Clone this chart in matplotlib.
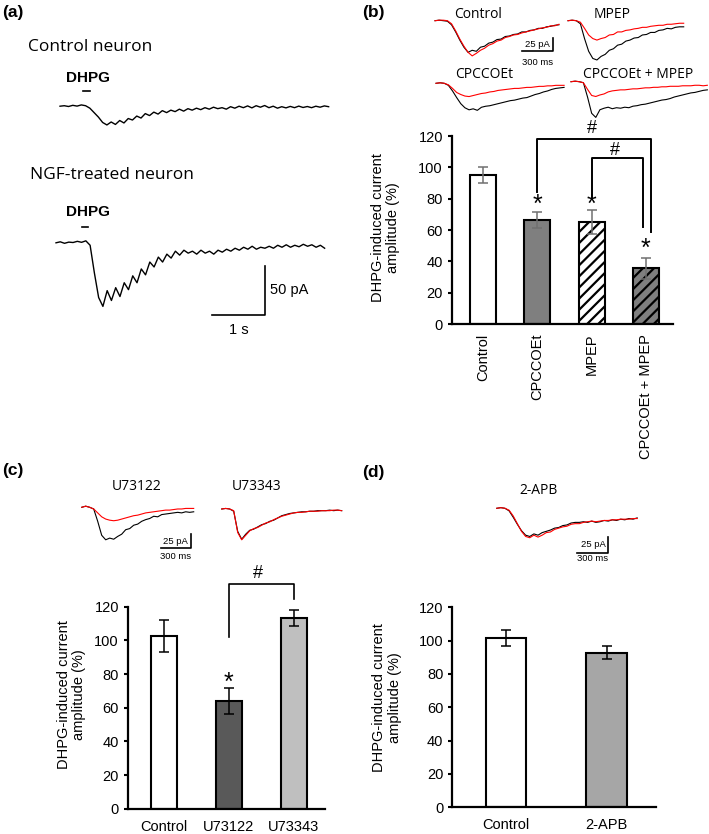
import numpy as np
import matplotlib
matplotlib.use("Agg")
import matplotlib.pyplot as plt

plt.rcParams['font.family'] = ['Liberation Sans', 'DejaVu Sans']
plt.rcParams['hatch.linewidth'] = 1.6

W, H = 709, 834

# ---- traces (pA), sampled every dt seconds ----
# panel a (dt = 0.08 s)
a_control = [0.5, 1.0, 0.2, 1.4, 0.6, 1.8, 1.0, -1.5, -6.0, -10.5, -16.0, -18.5, -15.5, -18.0,
             -14.0, -16.5, -12.0, -13.5, -9.5, -11.5, -7.0, -9.0, -5.5, -7.5, -4.0, -6.0, -3.5,
             -5.0, -2.5, -4.5, -2.0, -3.5, -1.5, -3.0, -1.0, -2.5, -0.5, -2.0, -1.0, -2.5, 0.0,
             -1.5, 0.5, -1.0, 0.8, -1.2, 1.0, -0.5, 1.2, -1.0, 0.5, -1.5, 0.0, -1.2, 0.3, -1.0,
             0.6, -0.8, 0.2, -1.0, 0.5, -0.5, 0.8, 0.0]
a_ngf = [0.5, 1.5, 0.0, 1.2, 0.8, 2.0, 1.0, 2.5, -2, -30, -55, -64, -48, -58, -45, -54, -40,
         -47, -33, -40, -26, -32, -19, -24, -14, -19, -11, -15, -8, -12, -7, -10, -8, -11, -7,
         -10, -8, -11, -7, -9, -6, -8, -5, -7, -4, -6, -3, -6, -4, -5, -3, -5, -2, -4, -1.5,
         -4, -2, -3.5, -1, -3, -1.5, -4, -2, -5]

# panels b, c, d (dt = 0.04 s); black = before drug, red = with drug
b_ctrl_k = [0, 1, 0, -1, -8, -22, -38, -52, -62, -58, -60, -52, -50, -44, -42, -37, -36, -31,
            -30, -27, -26, -22, -22, -19, -18, -15, -15, -12, -11, -9, -8]
b_ctrl_r = [0, 1, 1, 0, -6, -20, -36, -50, -62, -69, -64, -58, -54, -48, -45, -40, -38, -33,
            -31, -28, -27, -24, -22, -20, -18, -16, -14, -13, -10, -10, -7]
b_mpep_k = [0, 1, 0, -6, -35, -60, -74, -77, -70, -66, -58, -55, -48, -46, -40, -38, -34, -33,
            -28, -27, -23, -23, -19, -18, -15, -16, -13, -12, -12]
b_mpep_r = [0, 1, 0, -3, -15, -28, -35, -38, -35, -33, -28, -27, -22, -22, -19, -18, -16, -15,
            -13, -13, -11, -10, -9, -9, -7, -7, -6, -5, -5]
b_cpc_k = [0, 1, 0, -4, -15, -28, -40, -48, -52, -50, -53, -47, -45, -44, -42, -40, -38, -36,
           -34, -33, -31, -29, -28, -25, -22, -20, -17, -15, -12, -10, -9, -8]
b_cpc_r = [0, 1, 0, -3, -10, -18, -22, -25, -26, -24, -22, -20, -19, -17, -16, -14, -13, -12,
           -11, -10, -10, -9, -8, -8, -7, -6, -6, -5, -5, -4, -4, -4]
b_both_k = [0, 1, 0, -2, -30, -62, -70, -55, -52, -50, -53, -51, -52, -50, -51, -48, -47, -45,
            -44, -42, -40, -38, -36, -35, -33, -30, -28, -26, -24, -22, -21, -19, -17, -16]
b_both_r = [0, 1, 0, -2, -15, -27, -29, -26, -24, -20, -18, -17, -16, -16, -15, -14, -14, -13,
            -12, -12, -11, -11, -10, -10, -9, -9, -9, -8, -8, -8, -7, -7, -8, -7]
c_u122_k = [0, 2, 0, -3, -25, -50, -58, -55, -57, -52, -48, -40, -38, -32, -30, -25, -22, -20,
            -16, -17, -13, -12, -11, -10, -9, -10, -8, -9, -8]
c_u122_r = [0, 2, 0, -3, -10, -17, -21, -23, -24, -23, -21, -19, -17, -15, -14, -12, -10, -9,
            -8, -7, -6, -5, -5, -4, -3, -3, -2, -2, -2]
c_u343_k = [0, 1, 0, -4, -40, -54, -45, -38, -36, -32, -28, -26, -22, -20, -16, -12, -10, -8,
            -7, -6, -5, -5, -4, -4, -3, -3, -3, -2, -3, -2, -3]
c_u343_r = [0, 1, 0, -3, -42, -55, -47, -39, -35, -33, -29, -25, -23, -19, -16, -13, -11, -9,
            -7, -6, -6, -5, -4, -4, -4, -3, -3, -3, -2, -2, -3]
d_apb_k = [0, 1, 0, -4, -14, -25, -35, -42, -44, -40, -42, -38, -36, -34, -31, -30, -27, -26,
           -23, -22, -22, -21, -22, -20, -22, -21, -19, -20, -18, -19, -17, -18, -16, -17, -15]
d_apb_r = [0, 1, 0, -3, -12, -24, -36, -44, -46, -42, -45, -42, -38, -37, -33, -31, -29, -28,
           -25, -24, -24, -22, -21, -20, -21, -20, -19, -19, -18, -18, -17, -17, -17, -16, -16]

# ---- bar data ----
b_labels = ['Control', 'CPCCOEt', 'MPEP', 'CPCCOEt + MPEP']
b_vals = [95.2, 66.5, 65.0, 35.5]
b_errs = [5.3, 5.0, 7.5, 6.5]
c_labels = ['Control', 'U73122', 'U73343']
c_vals = [102.5, 64.0, 113.5]
c_errs = [9.5, 8.0, 4.7]
d_labels = ['Control', '2-APB']
d_vals = [101.5, 92.8]
d_errs = [5.0, 3.7]

fig = plt.figure(figsize=(7.09, 8.34), dpi=100)


def px_axes(x0, y0, x1, y1):
    return fig.add_axes([x0 / W, 1 - y1 / H, (x1 - x0) / W, (y1 - y0) / H])


def trace_ax(xo, yo, sx, sy, tmax, ymin, ymax):
    # xo, yo: pixel position of (t=0, 0 pA); sx px per s, sy px per pA
    ax = px_axes(xo, yo - ymax * sy, xo + tmax * sx, yo - ymin * sy)
    ax.set_xlim(0, tmax)
    ax.set_ylim(ymin, ymax)
    ax.axis('off')
    return ax


def draw(ax, vals, dt, color, lw=0.8):
    t = np.arange(len(vals)) * dt
    ax.plot(t, vals, color=color, lw=lw, clip_on=False)


def scalebar(ax, tx, top, dy, dx, ylab, xlab, fs, xlab_y, ylab_x):
    ax.plot([tx - dx, tx, tx], [top - dy, top - dy, top], color='black', lw=1.2, clip_on=False)
    ax.text(ylab_x, top - dy / 2, ylab, fontsize=fs, ha='right' if ylab_x < tx else 'left',
            va='center')
    ax.text(tx - dx / 2, xlab_y, xlab, fontsize=fs, ha='center', va='center')


def ftext(x, y, s, **kw):
    fig.text(x / W, 1 - y / H, s, **kw)


calib = ['Open Sans', 'DejaVu Sans']

# ---------------- panel a ----------------
ftext(2, 13, '(a)', fontsize=12.5, fontweight='bold', va='center')
ftext(28, 47, 'Control neuron', fontsize=12.5, family=calib, va='center')
ftext(30, 175, 'NGF-treated neuron', fontsize=12.5, family=calib, va='center')

sxa, sya = 53.3, 0.986
ax = trace_ax(60, 106.7, sxa, sya, 5.1, -30, 40)
draw(ax, a_control, 0.08, 'black', 1.0)
ax.plot([0.43, 0.56], [16.2, 16.2], color='black', lw=1.2)
ax.text(0.53, 29.4, 'DHPG', fontsize=11, fontweight='bold', ha='center', va='center')

ax = trace_ax(56, 243.3, sxa, sya, 5.1, -95, 40)
draw(ax, a_ngf, 0.08, 'black', 1.0)
ax.plot([0.48, 0.60], [16.8, 16.8], color='black', lw=1.2)
ax.text(0.60, 31.4, 'DHPG', fontsize=11, fontweight='bold', ha='center', va='center')
scalebar(ax, 3.93, -22.7, 50, 1.0, '50 pA', '1 s', 10.5, -88, 4.02)

# ---------------- panel b traces ----------------
ftext(362, 13, '(b)', fontsize=12.5, fontweight='bold', va='center')
sxb, syb = 103.3, 0.51
ax = trace_ax(435, 20.7, sxb, syb, 1.2, -80, 10)
draw(ax, b_ctrl_k, 0.04, 'black')
draw(ax, b_ctrl_r, 0.04, 'red')
scalebar(ax, 1.142, -34.5, 25, 0.3, '25 pA', '300 ms', 6.8, -81, 1.11)
ftext(478, 14, 'Control', fontsize=10, family=calib, ha='center', va='center')

ax = trace_ax(568, 20.7, sxb, syb, 1.12, -80, 10)
draw(ax, b_mpep_k, 0.04, 'black')
draw(ax, b_mpep_r, 0.04, 'red')
ftext(612, 14, 'MPEP', fontsize=10, family=calib, ha='center', va='center')

ax = trace_ax(436, 83.3, sxb, syb, 1.24, -80, 10)
draw(ax, b_cpc_k, 0.04, 'black')
draw(ax, b_cpc_r, 0.04, 'red')
ftext(484, 75, 'CPCCOEt', fontsize=10, family=calib, ha='center', va='center')

ax = trace_ax(571, 81.7, sxb, syb, 1.32, -80, 10)
draw(ax, b_both_k, 0.04, 'black')
draw(ax, b_both_r, 0.04, 'red')
ftext(638, 75, 'CPCCOEt + MPEP', fontsize=10, family=calib, ha='center', va='center')

# ---------------- panel c traces ----------------
ftext(2, 470, '(c)', fontsize=12.5, fontweight='bold', va='center')
sxc, syc = 100, 0.56
ax = trace_ax(81.7, 507.3, sxc, syc, 1.12, -90, 10)
draw(ax, c_u122_k, 0.04, 'black')
draw(ax, c_u122_r, 0.04, 'red')
scalebar(ax, 1.09, -48.2, 25, 0.3, '25 pA', '300 ms', 6.8, -87, 1.065)
ftext(137, 487, 'U73122', fontsize=10, family=calib, ha='center', va='center')

ax = trace_ax(221.7, 509, sxc, syc, 1.2, -90, 10)
draw(ax, c_u343_k, 0.04, 'black')
draw(ax, c_u343_r, 0.04, 'red')
ftext(257, 487, 'U73343', fontsize=10, family=calib, ha='center', va='center')

# ---------------- panel d traces ----------------
ftext(362, 473, '(d)', fontsize=12.5, fontweight='bold', va='center')
ax = trace_ax(496.7, 508.3, 103.3, 0.64, 1.36, -80, 10)
draw(ax, d_apb_k, 0.04, 'black')
draw(ax, d_apb_r, 0.04, 'red')
scalebar(ax, 1.08, -44.4, 25, 0.3, '25 pA', '300 ms', 6.8, -78, 1.055)
ftext(539, 491, '2-APB', fontsize=10, family=calib, ha='center', va='center')


# ---------------- bar charts ----------------
def bar_panel(box, labels, vals, errs, colors, hatches, width, xlim, ecolor, rot):
    ax = px_axes(*box)
    x = np.arange(len(vals))
    bars = ax.bar(x, vals, width, color=colors, edgecolor='black', linewidth=1.5,
                  yerr=errs, error_kw=dict(ecolor=ecolor, elinewidth=1.1, capsize=3.5,
                                           capthick=1.1))
    for b, h in zip(bars, hatches):
        if h:
            b.set_hatch(h)
    ax.set_xlim(xlim)
    ax.set_ylim(0, 120)
    ax.set_yticks(np.arange(0, 121, 20))
    ax.set_xticks(x)
    ax.set_xticklabels(labels, rotation=rot, fontsize=10.5)
    ax.tick_params(axis='y', labelsize=10.5, length=3, width=1.5, pad=3.5)
    ax.tick_params(axis='x', length=0, pad=7 if rot else 8)
    for s in ['top', 'right']:
        ax.spines[s].set_visible(False)
    for s in ['left', 'bottom']:
        ax.spines[s].set_linewidth(1.6)
    return ax


ylab = 'DHPG-induced current\namplitude (%)'

# b
ax = bar_panel((452, 136, 673, 324), b_labels, b_vals, b_errs,
               ['white', '#7f7f7f', 'white', '#7f7f7f'], [None, None, '///', '///'],
               0.48, (-0.57, 3.5), '#707070', 90)
ftext(385.5, 228, ylab, fontsize=10.5, rotation=90, ha='center', va='center', linespacing=1.15)
for xi, yi in [(1, 76), (2, 76), (3, 48)]:
    ax.text(xi, yi, '*', fontsize=18, ha='center', va='center')
ax.plot([1, 1, 3.1, 3.1], [84.5, 118, 118, 59], color='black', lw=1.4, clip_on=False)
ax.plot([2, 2, 2.94, 2.94], [81, 106, 106, 62], color='black', lw=1.4, clip_on=False)
ax.text(2.0, 124.5, '#', fontsize=13, ha='center', va='center')
ax.text(2.43, 110.5, '#', fontsize=13, ha='center', va='center')

# c
ax = bar_panel((128, 606.7, 325, 808.7), c_labels, c_vals, c_errs,
               ['white', '#595959', '#bfbfbf'], [None, None, None],
               0.4, (-0.55, 2.48), 'black', 0)
ftext(71.5, 695, ylab, fontsize=10.5, rotation=90, ha='center', va='center', linespacing=1.15)
ax.text(1, 75, '*', fontsize=18, ha='center', va='center')
ax.plot([1, 1, 2, 2], [101.8, 133.5, 133.5, 124.4], color='black', lw=1.2, clip_on=False)
ax.text(1.45, 139.5, '#', fontsize=13, ha='center', va='center')

# d
ax = bar_panel((452.3, 607.3, 656, 807.3), d_labels, d_vals, d_errs,
               ['white', '#a6a6a6'], [None, None],
               0.4, (-0.53, 1.49), 'black', 0)
ftext(386.7, 698, ylab, fontsize=10.5, rotation=90, ha='center', va='center', linespacing=1.15)

fig.savefig('out.png', dpi=100)
